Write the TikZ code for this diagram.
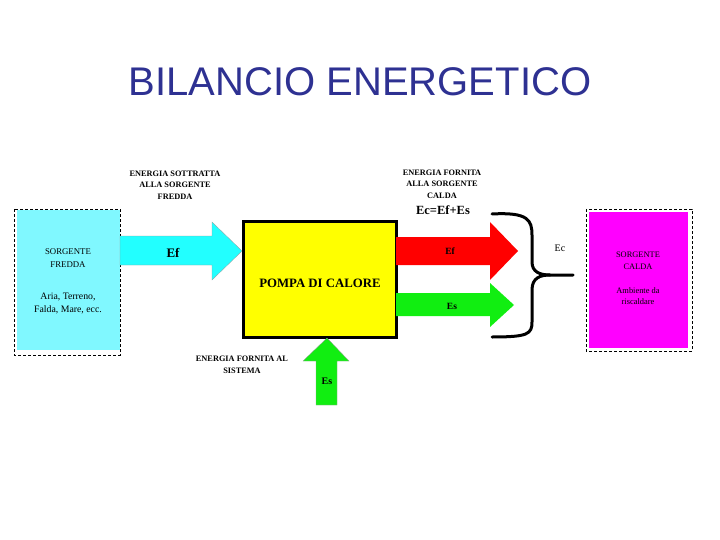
\documentclass[tikz,border=0pt]{standalone}
\usepackage{fontspec}
\setmainfont{Liberation Serif}
\newfontfamily\titlefont{Liberation Sans}
\definecolor{titleblue}{HTML}{2E3192}
\definecolor{coldfill}{HTML}{80F8FF}
\definecolor{coldarrow}{HTML}{22FFFF}
\definecolor{hotfill}{HTML}{FF00FF}
\definecolor{pumpfill}{HTML}{FFFF00}
\definecolor{redarrow}{HTML}{FF0000}
\definecolor{greenarrow}{HTML}{11EE11}
\tikzset{
  smalltxt/.style={font=\fontsize{8.3}{11.5}\selectfont\bfseries, align=center, inner sep=0pt},
  coldtxt/.style={font=\fontsize{8.8}{12.5}\selectfont, align=center, inner sep=0pt},
  coldex/.style={font=\fontsize{9.8}{13}\selectfont, align=center, inner sep=0pt},
  hottxt/.style={font=\fontsize{8.4}{11.5}\selectfont, align=center, inner sep=0pt},
  dashbox/.style={draw=black, densely dashed, line width=0.9pt},
  arrowshape/.style={draw=black!40, line width=0.3pt},
}
\begin{document}
\begin{tikzpicture}[x=1pt,y=-1pt]
\useasboundingbox (0,0) rectangle (720,540);
% title
\node[font=\titlefont\fontsize{40}{44}\selectfont, text=titleblue] (title) at (360,82) {BILANCIO ENERGETICO};
% cold source
\fill[coldfill] (17,210) rectangle (120,350);
\draw[dashbox] (14,209) rectangle (120,355);
\node[coldtxt] (coldname) at (68,258) {SORGENTE\\FREDDA};
\node[coldex] (coldexample) at (68,304) {Aria, Terreno,\\Falda, Mare, ecc.};
% hot source
\fill[hotfill] (589,212) rectangle (688,348);
\draw[dashbox] (586,209) rectangle (692,351);
\node[hottxt] (hotname) at (638,261) {SORGENTE\\CALDA};
\node[hottxt] (hotex) at (638,296) {Ambiente da\\riscaldare};
% heat pump
\node[draw=black, line width=3pt, fill=pumpfill, minimum width=153pt, minimum height=115pt, inner sep=0pt] (pump) at (319.5,279.5) {};
\node[font=\fontsize{12.8}{14}\selectfont\bfseries] (pumplabel) at (320,283) {POMPA DI CALORE};
% cyan arrow
\filldraw[fill=coldarrow, arrowshape] (120,236) -- (212,236) -- (212,222) -- (242,251) -- (212,280) -- (212,265) -- (120,265) -- cycle;
\node[font=\fontsize{13}{15}\selectfont\bfseries] (ef1) at (173,253) {Ef};
% red arrow
\fill[redarrow] (396,237) -- (490,237) -- (490,222) -- (518,251) -- (490,280) -- (490,265) -- (396,265) -- cycle;
\node[font=\fontsize{9.5}{11}\selectfont\bfseries] (ef2) at (450,251) {Ef};
% green arrow
\fill[greenarrow] (396,293) -- (490,293) -- (490,283) -- (514,305) -- (490,327) -- (490,316) -- (396,316) -- cycle;
\node[font=\fontsize{9.5}{11}\selectfont\bfseries] (es2) at (452,306) {Es};
% green up arrow
\filldraw[fill=greenarrow, draw=black!40, line width=0.3pt] (316,405) -- (316,361) -- (303,361) -- (327,338) -- (349,361) -- (337,361) -- (337,405) -- cycle;
\node[font=\fontsize{10}{11}\selectfont\bfseries] (es1) at (327,381) {Es};
% brace
\coordinate (btop) at (492,214);
\coordinate (bbot) at (492,337);
\coordinate (bend) at (573,275);
\draw[line width=3pt, line cap=round, line join=round]
  (btop) .. controls (528,212) and (532,220) .. (532,235) -- (532,262)
  .. controls (532,272) and (540,275) .. (550,275) -- (bend);
\draw[line width=3pt, line cap=round, line join=round]
  (550,275) .. controls (540,275) and (532,278) .. (532,290) -- (532,322)
  .. controls (532,334) and (528,337) .. (bbot);
\node[font=\fontsize{10}{11}\selectfont] (ec) at (560,248) {Ec};
% labels
\node[smalltxt] (lcold) at (175,185) {ENERGIA SOTTRATTA\\ALLA SORGENTE\\FREDDA};
\node[smalltxt] (lhot) at (442,184) {ENERGIA FORNITA\\ALLA SORGENTE\\CALDA};
\node[font=\fontsize{12.5}{14}\selectfont\bfseries, inner sep=0pt] (eq) at (443,210) {Ec=Ef+Es};
\node[smalltxt] (lsys) at (242,365) {ENERGIA FORNITA AL\\SISTEMA};
\end{tikzpicture}
\end{document}
